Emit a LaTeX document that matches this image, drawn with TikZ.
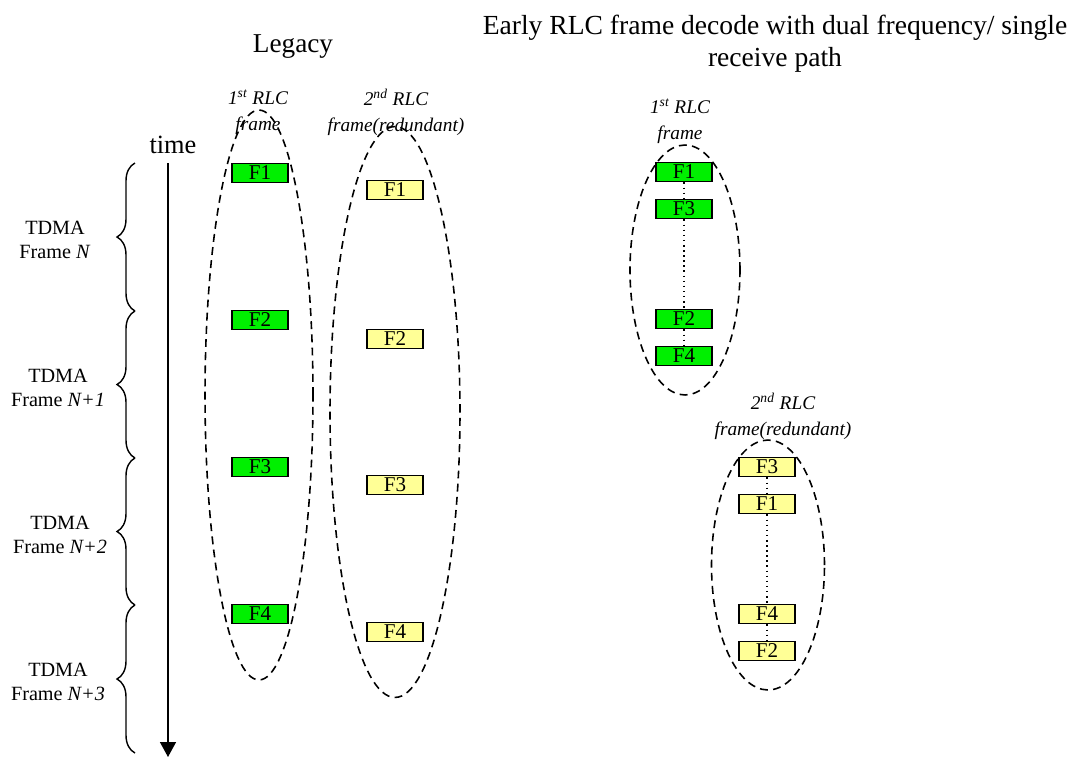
\documentclass[tikz,border=0pt]{standalone}
\usepackage{fontspec}
\setmainfont{Liberation Serif}
\usetikzlibrary{shapes.geometric,arrows.meta,decorations.pathreplacing}
\definecolor{frgreen}{RGB}{0,240,0}
\definecolor{fryellow}{RGB}{255,255,150}
\begin{document}
\begin{tikzpicture}[x=0.02cm,y=-0.02cm,
  gbox/.style={draw,line width=1.1pt,fill=frgreen,minimum width=1.12cm,
               minimum height=0.38cm,inner sep=0pt,font=\fontsize{12}{12}\selectfont},
  ybox/.style={gbox,fill=fryellow},
  ring/.style={ellipse,draw,line width=0.9pt,dash pattern=on 4.5pt off 3pt,inner sep=0pt},
  link/.style={line width=0.9pt,dotted},
  tbrace/.style={decorate,decoration={brace,amplitude=0.36cm},line width=0.8pt},
  caption/.style={align=center,font=\fontsize{11}{14.7}\selectfont\itshape},
  slot/.style={align=center,font=\fontsize{11.5}{14}\selectfont}]
\path[use as bounding box] (0,0) rectangle (1069,758);
% headings
\node[font=\fontsize{15.5}{15.5}\selectfont] (legacy) at (293,47) {Legacy};
\node[align=center,font=\fontsize{15.7}{18}\selectfont] (early) at (775,44)
  {Early RLC frame decode with dual frequency/ single\\receive path};
% time axis
\node[font=\fontsize{15}{15}\selectfont] (time) at (173,145) {time};
\coordinate (t0) at (168,163);
\coordinate (t1) at (168,757);
\draw[line width=0.8pt,-{Triangle[width=0.32cm,length=0.3cm]}] (t0) -- (t1);
% TDMA frames
\coordinate (b0) at (135,163);
\coordinate (b1) at (135,311);
\coordinate (b2) at (135,458);
\coordinate (b3) at (135,605);
\coordinate (b4) at (135,753);
\draw[tbrace] (b1) -- (b0);
\draw[tbrace] (b2) -- (b1);
\draw[tbrace] (b3) -- (b2);
\draw[tbrace] (b4) -- (b3);
\node[slot] (n0) at (55,240) {TDMA\\Frame \textit{N}};
\node[slot] (n1) at (58,388) {TDMA\\Frame \textit{N+1}};
\node[slot] (n2) at (60,535) {TDMA\\Frame \textit{N+2}};
\node[slot] (n3) at (58,682) {TDMA\\Frame \textit{N+3}};
% legacy, 1st RLC frame
\node[ring,minimum width=2.16cm,minimum height=11.4cm] (l1) at (259,395) {};
\node[caption] (l1cap) at (258,112) {1\textsuperscript{st} RLC\\frame};
\node[gbox] (l1a) at (260,173) {F1};
\node[gbox] (l1b) at (260,320) {F2};
\node[gbox] (l1c) at (260,467) {F3};
\node[gbox] (l1d) at (260,614) {F4};
% legacy, 2nd RLC frame
\node[ring,minimum width=2.6cm,minimum height=11.42cm] (l2) at (395,412) {};
\node[caption] (l2cap) at (396,112) {2\textsuperscript{nd} RLC\\frame(redundant)};
\node[ybox] (l2a) at (395,190) {F1};
\node[ybox] (l2b) at (395,339) {F2};
\node[ybox] (l2c) at (395,485) {F3};
\node[ybox] (l2d) at (395,632) {F4};
% early decode, 1st RLC frame
\node[ring,minimum width=2.2cm,minimum height=5cm] (r1) at (685,270) {};
\node[caption] (r1cap) at (680,121) {1\textsuperscript{st} RLC\\frame};
\node[gbox] (r1a) at (684,172) {F1};
\node[gbox] (r1b) at (684,209) {F3};
\node[gbox] (r1c) at (684,319) {F2};
\node[gbox] (r1d) at (684,356) {F4};
\draw[link] (r1a) -- (r1b);
\draw[link] (r1b) -- (r1c);
\draw[link] (r1c) -- (r1d);
% early decode, 2nd RLC frame
\node[ring,minimum width=2.26cm,minimum height=5cm] (r2) at (768,565) {};
\node[caption] (r2cap) at (783,416) {2\textsuperscript{nd} RLC\\frame(redundant)};
\node[ybox] (r2a) at (767,467) {F3};
\node[ybox] (r2b) at (767,504) {F1};
\node[ybox] (r2c) at (767,614) {F4};
\node[ybox] (r2d) at (767,651) {F2};
\draw[link] (r2a) -- (r2b);
\draw[link] (r2b) -- (r2c);
\draw[link] (r2c) -- (r2d);
\end{tikzpicture}
\end{document}
